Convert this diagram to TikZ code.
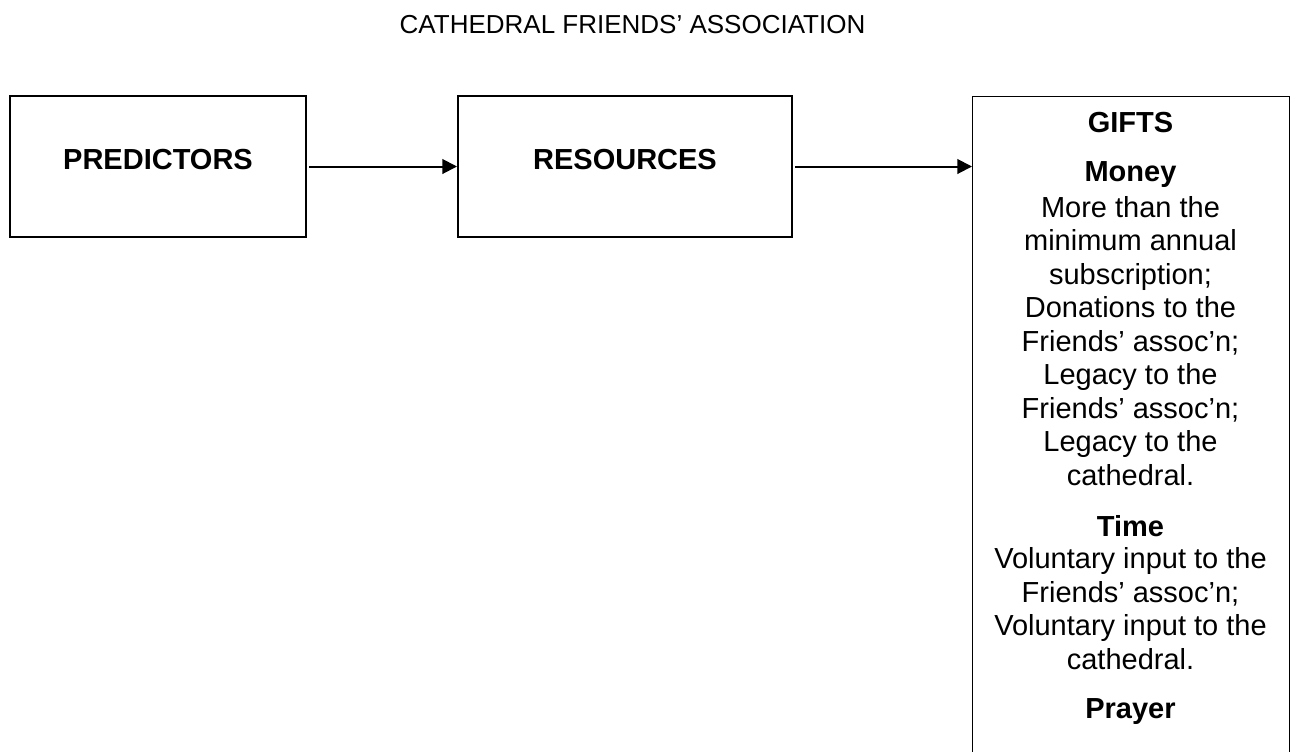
\documentclass[tikz,border=0pt]{standalone}
\usepackage{fontspec}
\setmainfont{Liberation Sans}
\usetikzlibrary{arrows.meta}
\tikzset{
  frame/.style={draw=black, line width=1.5pt, rectangle, inner sep=0pt},
  giftframe/.style={draw=black, line width=0.8pt, rectangle, inner sep=0pt},
  headtext/.style={font=\fontsize{21.75}{25}\selectfont\bfseries, inner sep=0pt, anchor=base},
  bodytext/.style={font=\fontsize{21.75}{25}\selectfont, inner sep=0pt, anchor=base},
  titletext/.style={font=\fontsize{19.5}{23}\selectfont, inner sep=0pt, anchor=base},
  flow/.style={line width=1.5pt, -{Triangle[length=11pt, width=11pt]}}
}
\begin{document}
\begin{tikzpicture}[x=0.75pt, y=-0.75pt]
\useasboundingbox (0,0) rectangle (1293,751);
\clip (0,0) rectangle (1293,751);
\fill[white] (0,0) rectangle (1293,751);

% heading
\node[titletext] (title) at (632.5,33.3) {CATHEDRAL FRIENDS’ ASSOCIATION};

% the three stages
\node[frame, minimum width=222pt, minimum height=105.75pt] (pred) at (158,166.5) {};
\node[headtext] (predlabel) at (158,169) {PREDICTORS};

\node[frame, minimum width=250.5pt, minimum height=105.75pt] (res) at (625,166.5) {};
\node[headtext] (reslabel) at (625,169) {RESOURCES};

% the gifts box runs past the lower edge of the page
\node[giftframe, minimum width=237.75pt, minimum height=525pt, anchor=north west] (gifts) at (972,96) {};

\node[headtext] (g0) at (1130.5,132.7) {GIFTS};
\node[headtext] (g1) at (1130.5,181.5) {Money};
\node[bodytext] (g2) at (1130.5,217.3) {More than the};
\node[bodytext] (g3) at (1130.5,250.8) {minimum annual};
\node[bodytext] (g4) at (1130.5,284.3) {subscription;};
\node[bodytext] (g5) at (1130.5,317.8) {Donations to the};
\node[bodytext] (g6) at (1130.5,351.3) {Friends’ assoc’n;};
\node[bodytext] (g7) at (1130.5,384.8) {Legacy to the};
\node[bodytext] (g8) at (1130.5,418.3) {Friends’ assoc’n;};
\node[bodytext] (g9) at (1130.5,451.8) {Legacy to the};
\node[bodytext] (g10) at (1130.5,485.3) {cathedral.};
\node[headtext] (g11) at (1130.5,536) {Time};
\node[bodytext] (g12) at (1130.5,568.8) {Voluntary input to the};
\node[bodytext] (g13) at (1130.5,602.3) {Friends’ assoc’n;};
\node[bodytext] (g14) at (1130.5,635.8) {Voluntary input to the};
\node[bodytext] (g15) at (1130.5,669.3) {cathedral.};
\node[headtext] (g16) at (1130.5,718) {Prayer};

% connectors
\coordinate (giftsin) at (gifts.north west |- res.east);
\draw[flow] ([xshift=1.5pt]pred.east) -- (res.west);
\draw[flow] ([xshift=1.5pt]res.east) -- (giftsin);
\end{tikzpicture}
\end{document}
